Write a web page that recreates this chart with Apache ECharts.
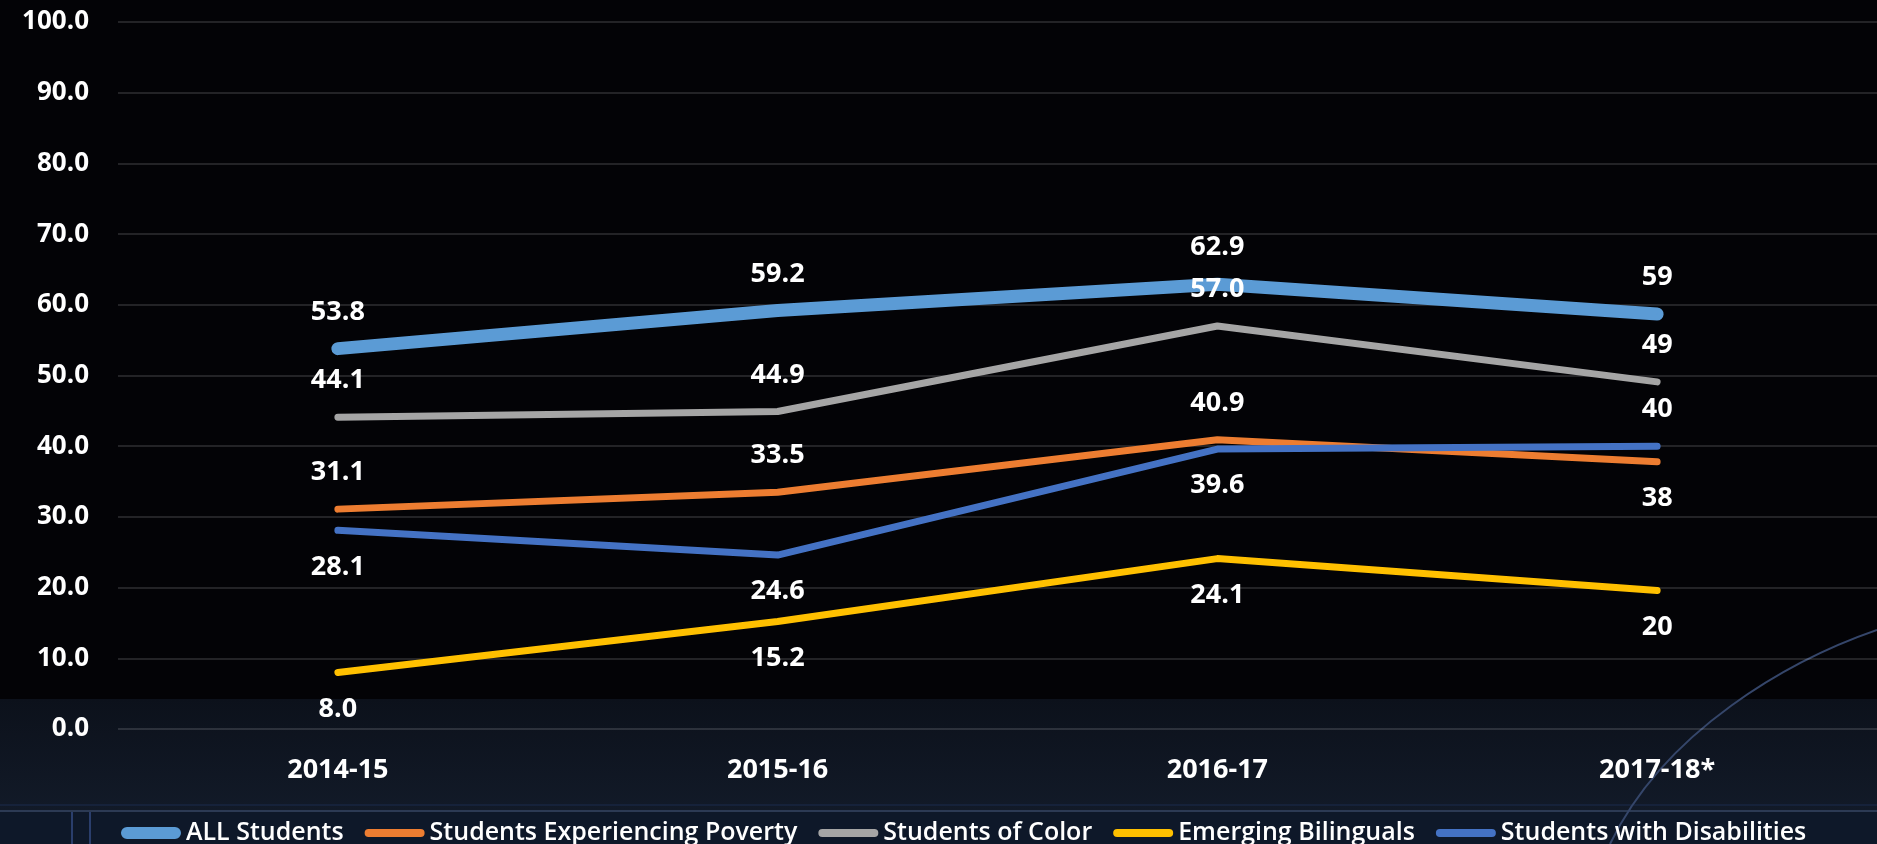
<!DOCTYPE html>
<html>
<head>
<meta charset="utf-8">
<script src="https://cdn.jsdelivr.net/npm/echarts@6/dist/echarts.min.js"></script>
<style>
html,body{margin:0;padding:0;background:#030306;}
#c{width:1877px;height:844px;}
</style>
</head>
<body>
<div id="c"></div>
<script>
// ---- data ----
var categories = ['2014-15', '2015-16', '2016-17', '2017-18*'];
var seriesNames = ['ALL Students', 'Students Experiencing Poverty', 'Students of Color', 'Emerging Bilinguals', 'Students with Disabilities'];
var allStudents = [53.8, 59.2, 62.9, 58.7];
var poverty = [31.1, 33.5, 40.9, 37.8];
var ofColor = [44.1, 44.9, 57.0, 49.1];
var bilinguals = [8.0, 15.2, 24.1, 19.6];
var disabilities = [28.1, 24.6, 39.6, 40.0];
var labelDecimals = [1, 1, 1, 0];
var yTicks = [0, 10, 20, 30, 40, 50, 60, 70, 80, 90, 100];

// ---- styles ----
var colors = ['#5B9BD5', '#ED7D31', '#A5A5A5', '#FFC000', '#4472C4'];
var widths = [13, 7, 7, 7, 7];
var labelPos = [
  ['top', 'top', 'top', 'top'],
  ['top', 'top', 'top', 'bottom'],
  ['top', 'top', 'top', 'top'],
  ['bottom', 'bottom', 'bottom', 'bottom'],
  ['bottom', 'bottom', 'bottom', 'top']
];
var seriesData = [allStudents, poverty, ofColor, bilinguals, disabilities];

var thickIcon = 'path://M0,0h0.01v0.01h-0.01Z M0,12h0.01v-0.01h-0.01Z M6,0H54A6,6 0 0 1 54,12H6A6,6 0 0 1 6,0Z';
var thinIcon = 'path://M0,0h0.01v0.01h-0.01Z M0,12h0.01v-0.01h-0.01Z M4,2H56A4,4 0 0 1 56,10H4A4,4 0 0 1 4,2Z';

var chart = echarts.init(document.getElementById('c'), null, {renderer: 'canvas'});

var series = seriesNames.map(function (name, si) {
  return {
    name: name,
    type: 'line',
    data: seriesData[si].map(function (v, i) {
      return {
        value: v,
        label: {position: labelPos[si][i]}
      };
    }),
    symbol: 'circle',
    symbolSize: 1,
    showSymbol: true,
    itemStyle: {color: colors[si]},
    lineStyle: {color: colors[si], width: widths[si], cap: 'round', join: 'round'},
    emphasis: {disabled: true},
    animation: false,
    label: {
      show: true,
      distance: 22,
      color: '#ffffff',
      fontFamily: 'Open Sans',
      fontWeight: 'bold',
      fontSize: 27,
      lineHeight: 28,
      formatter: function (p) {
        return Number(p.value).toFixed(labelDecimals[p.dataIndex]);
      }
    },
    z: 2 + si
  };
});

var option = {
  backgroundColor: '#030306',
  animation: false,
  graphic: [
    {type: 'rect', z: -100, silent: true, shape: {x: 0, y: 699, width: 1877, height: 112},
      style: {fill: new echarts.graphic.LinearGradient(0, 0, 0, 1, [
        {offset: 0, color: '#0c111b'}, {offset: 1, color: '#121a28'}])}},
    {type: 'rect', z: -100, silent: true, shape: {x: 0, y: 811, width: 1877, height: 33},
      style: {fill: '#0e1829'}},
    {type: 'line', z: -99, silent: true, shape: {x1: 0, y1: 805, x2: 1877, y2: 805},
      style: {stroke: '#16223a', lineWidth: 2}},
    {type: 'line', z: -99, silent: true, shape: {x1: 0, y1: 811, x2: 1877, y2: 811},
      style: {stroke: '#2c3a54', lineWidth: 2}},
    {type: 'line', z: -99, silent: true, shape: {x1: 72, y1: 812, x2: 72, y2: 844},
      style: {stroke: '#2a3e6c', lineWidth: 2}},
    {type: 'line', z: -99, silent: true, shape: {x1: 90, y1: 812, x2: 90, y2: 844},
      style: {stroke: '#2a3e6c', lineWidth: 2}},
    {type: 'bezierCurve', z: -99, silent: true,
      shape: {x1: 1877, y1: 630, cpx1: 1790, cpy1: 660, cpx2: 1665, cpy2: 730, x2: 1610, y2: 844},
      style: {stroke: '#35466a', lineWidth: 2, fill: null}}
  ],
  grid: {left: 118, top: 22, width: 1772, bottom: 115, containLabel: false},
  legend: {
    left: 116,
    top: 813,
    itemWidth: 60,
    itemHeight: 12,
    itemGap: 21,
    data: seriesNames.map(function (n, i) {
      return {name: n, icon: i === 0 ? thickIcon : thinIcon, itemStyle: {color: colors[i]}};
    }),
    textStyle: {color: '#ffffff', fontFamily: 'Open Sans', fontWeight: 600, fontSize: 25, lineHeight: 30},
    selectedMode: false
  },
  xAxis: {
    type: 'category',
    data: categories,
    boundaryGap: true,
    axisLine: {show: false},
    axisTick: {show: false},
    axisLabel: {color: '#ffffff', fontFamily: 'Open Sans', fontWeight: 'bold', fontSize: 27, lineHeight: 28, margin: 27}
  },
  yAxis: {
    type: 'value',
    min: yTicks[0],
    max: yTicks[yTicks.length - 1],
    interval: yTicks[1] - yTicks[0],
    axisLine: {show: false},
    axisTick: {show: false},
    splitLine: {lineStyle: {color: 'rgba(255,255,255,0.13)', width: 2}},
    axisLabel: {
      color: '#ffffff', fontFamily: 'Open Sans', fontWeight: 'bold', fontSize: 26, margin: 29,
      formatter: function (v) { return v.toFixed(1); }
    }
  },
  series: series
};
chart.setOption(option);
</script>
</body>
</html>
